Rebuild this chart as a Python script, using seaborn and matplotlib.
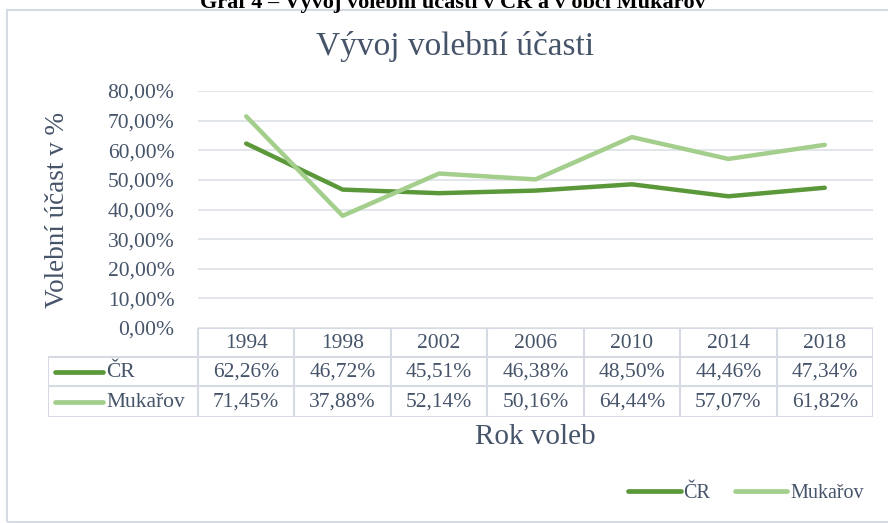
import matplotlib
matplotlib.use("Agg")
import matplotlib.pyplot as plt
from matplotlib.ticker import FuncFormatter, MultipleLocator
from matplotlib.lines import Line2D
from matplotlib.patches import Rectangle
import seaborn as sns
import pandas as pd

years = ["1994", "1998", "2002", "2006", "2010", "2014", "2018"]
cr = [62.26, 46.72, 45.51, 46.38, 48.50, 44.46, 47.34]
mukarov = [71.45, 37.88, 52.14, 50.16, 64.44, 57.07, 61.82]
series_names = ["ČR", "Mukařov"]
colors = {"ČR": "#5a983a", "Mukařov": "#a3ce8b"}
title = "Vývoj volební účasti"
caption = "Graf 4 – Vývoj volební účasti v ČR a v obci Mukařov"
ylabel = "Volební účast v %"
xlabel = "Rok voleb"

sns.set_theme(style="white")
plt.rcParams["font.family"] = ["Liberation Serif", "DejaVu Serif"]
TXT = "#46546a"
GRID = "#dde1e8"
BORDER = "#d6dbe3"

W, H = 888, 523
fig = plt.figure(figsize=(W / 100, H / 100), dpi=100)

def fx(px):
    return px / W

def fy(py):
    return 1 - py / H

# outer chart frame
fig.patches.append(Rectangle((fx(7), fy(522)), fx(895) - fx(7), fy(10) - fy(522),
                             transform=fig.transFigure, fill=False,
                             edgecolor=BORDER, linewidth=1.5))
# caption (cut off at top, as in the source)
fig.text(fx(453), fy(8), caption, ha="center", va="baseline", fontsize=16,
         fontweight="bold", color="black")

# main plot axes
left, right, top, bottom = 198, 873, 91, 328
ax = fig.add_axes([fx(left), fy(bottom), fx(right) - fx(left), fy(top) - fy(bottom)])

df = pd.DataFrame({
    "Rok": list(range(len(years))) * 2,
    "Hodnota": cr + mukarov,
    "Řada": [series_names[0]] * len(cr) + [series_names[1]] * len(mukarov),
})
sns.lineplot(data=df, x="Rok", y="Hodnota", hue="Řada", palette=colors, ax=ax,
             linewidth=3.2, legend=False, solid_capstyle="round")
ax.set_xlim(-0.5, len(years) - 0.5)
ax.set_ylim(0, 80)
ax.yaxis.set_major_locator(MultipleLocator(10))
ax.yaxis.set_major_formatter(FuncFormatter(lambda v, p: f"{v:.2f}".replace(".", ",") + "%"))
ax.grid(axis="y", color=GRID, linewidth=1.2)
ax.set_xticks([])
ax.set_xlabel("")
ax.set_ylabel("")
for s in ax.spines.values():
    s.set_visible(False)
ax.tick_params(axis="y", length=0, pad=17, labelsize=15.5, labelcolor=TXT)

# title and axis labels
fig.text(fx(455), fy(46), title, ha="center", va="center", fontsize=24, color=TXT)
fig.text(fx(57), fy(210), ylabel, ha="center", va="center", rotation=90, fontsize=19.5, color=TXT)
fig.text(fx(535), fy(437), xlabel, ha="center", va="center", fontsize=21, color=TXT)

# data table
tl, tr, t0, t1, t2, t3 = 48, 873, 328, 357, 386, 417
tab = fig.add_axes([fx(tl), fy(t3), fx(tr) - fx(tl), fy(t0) - fy(t3)])
tab.set_xlim(tl, tr)
tab.set_ylim(t3, t0)
tab.axis("off")
colw = (tr - left) / len(years)
lc = dict(color=BORDER, linewidth=1.5)
tab.plot([left, tr], [t0, t0], **lc)
tab.plot([tl, tr], [t1, t1], **lc)
tab.plot([tl, tr], [t2, t2], **lc)
tab.plot([tl, tr], [t3, t3], **lc)
tab.plot([tl, tl], [t1, t3], **lc)
for i in range(len(years) + 1):
    xx = left + i * colw
    tab.plot([xx, xx], [t0, t3], **lc)

fmt = lambda v: f"{v:.2f}".replace(".", ",") + "%"
for i, yr in enumerate(years):
    cx = left + (i + 0.5) * colw
    tab.text(cx, (t0 + t1) / 2 + 1, yr, ha="center", va="center", fontsize=15.5, color=TXT)
    tab.text(cx, (t1 + t2) / 2 + 1, fmt(cr[i]), ha="center", va="center", fontsize=15.5, color=TXT)
    tab.text(cx, (t2 + t3) / 2 + 1, fmt(mukarov[i]), ha="center", va="center", fontsize=15.5, color=TXT)
for name, (ya, yb) in zip(series_names, [(t1, t2), (t2, t3)]):
    yc = (ya + yb) / 2
    tab.plot([55, 103], [yc, yc], color=colors[name], linewidth=3.4, solid_capstyle="round")
    tab.text(106, yc + 1, name, ha="left", va="center", fontsize=15.5, color=TXT)

# bottom legend
handles = [Line2D([0], [0], color=colors[n], linewidth=3.4, solid_capstyle="round") for n in series_names]
fig.legend(handles, series_names, loc="center", bbox_to_anchor=(fx(746), fy(493)), ncol=2,
           frameon=False, fontsize=14.5, labelcolor=TXT, handlelength=2.6, handletextpad=0.15,
           columnspacing=1.2)

fig.savefig("out.png", dpi=100)
